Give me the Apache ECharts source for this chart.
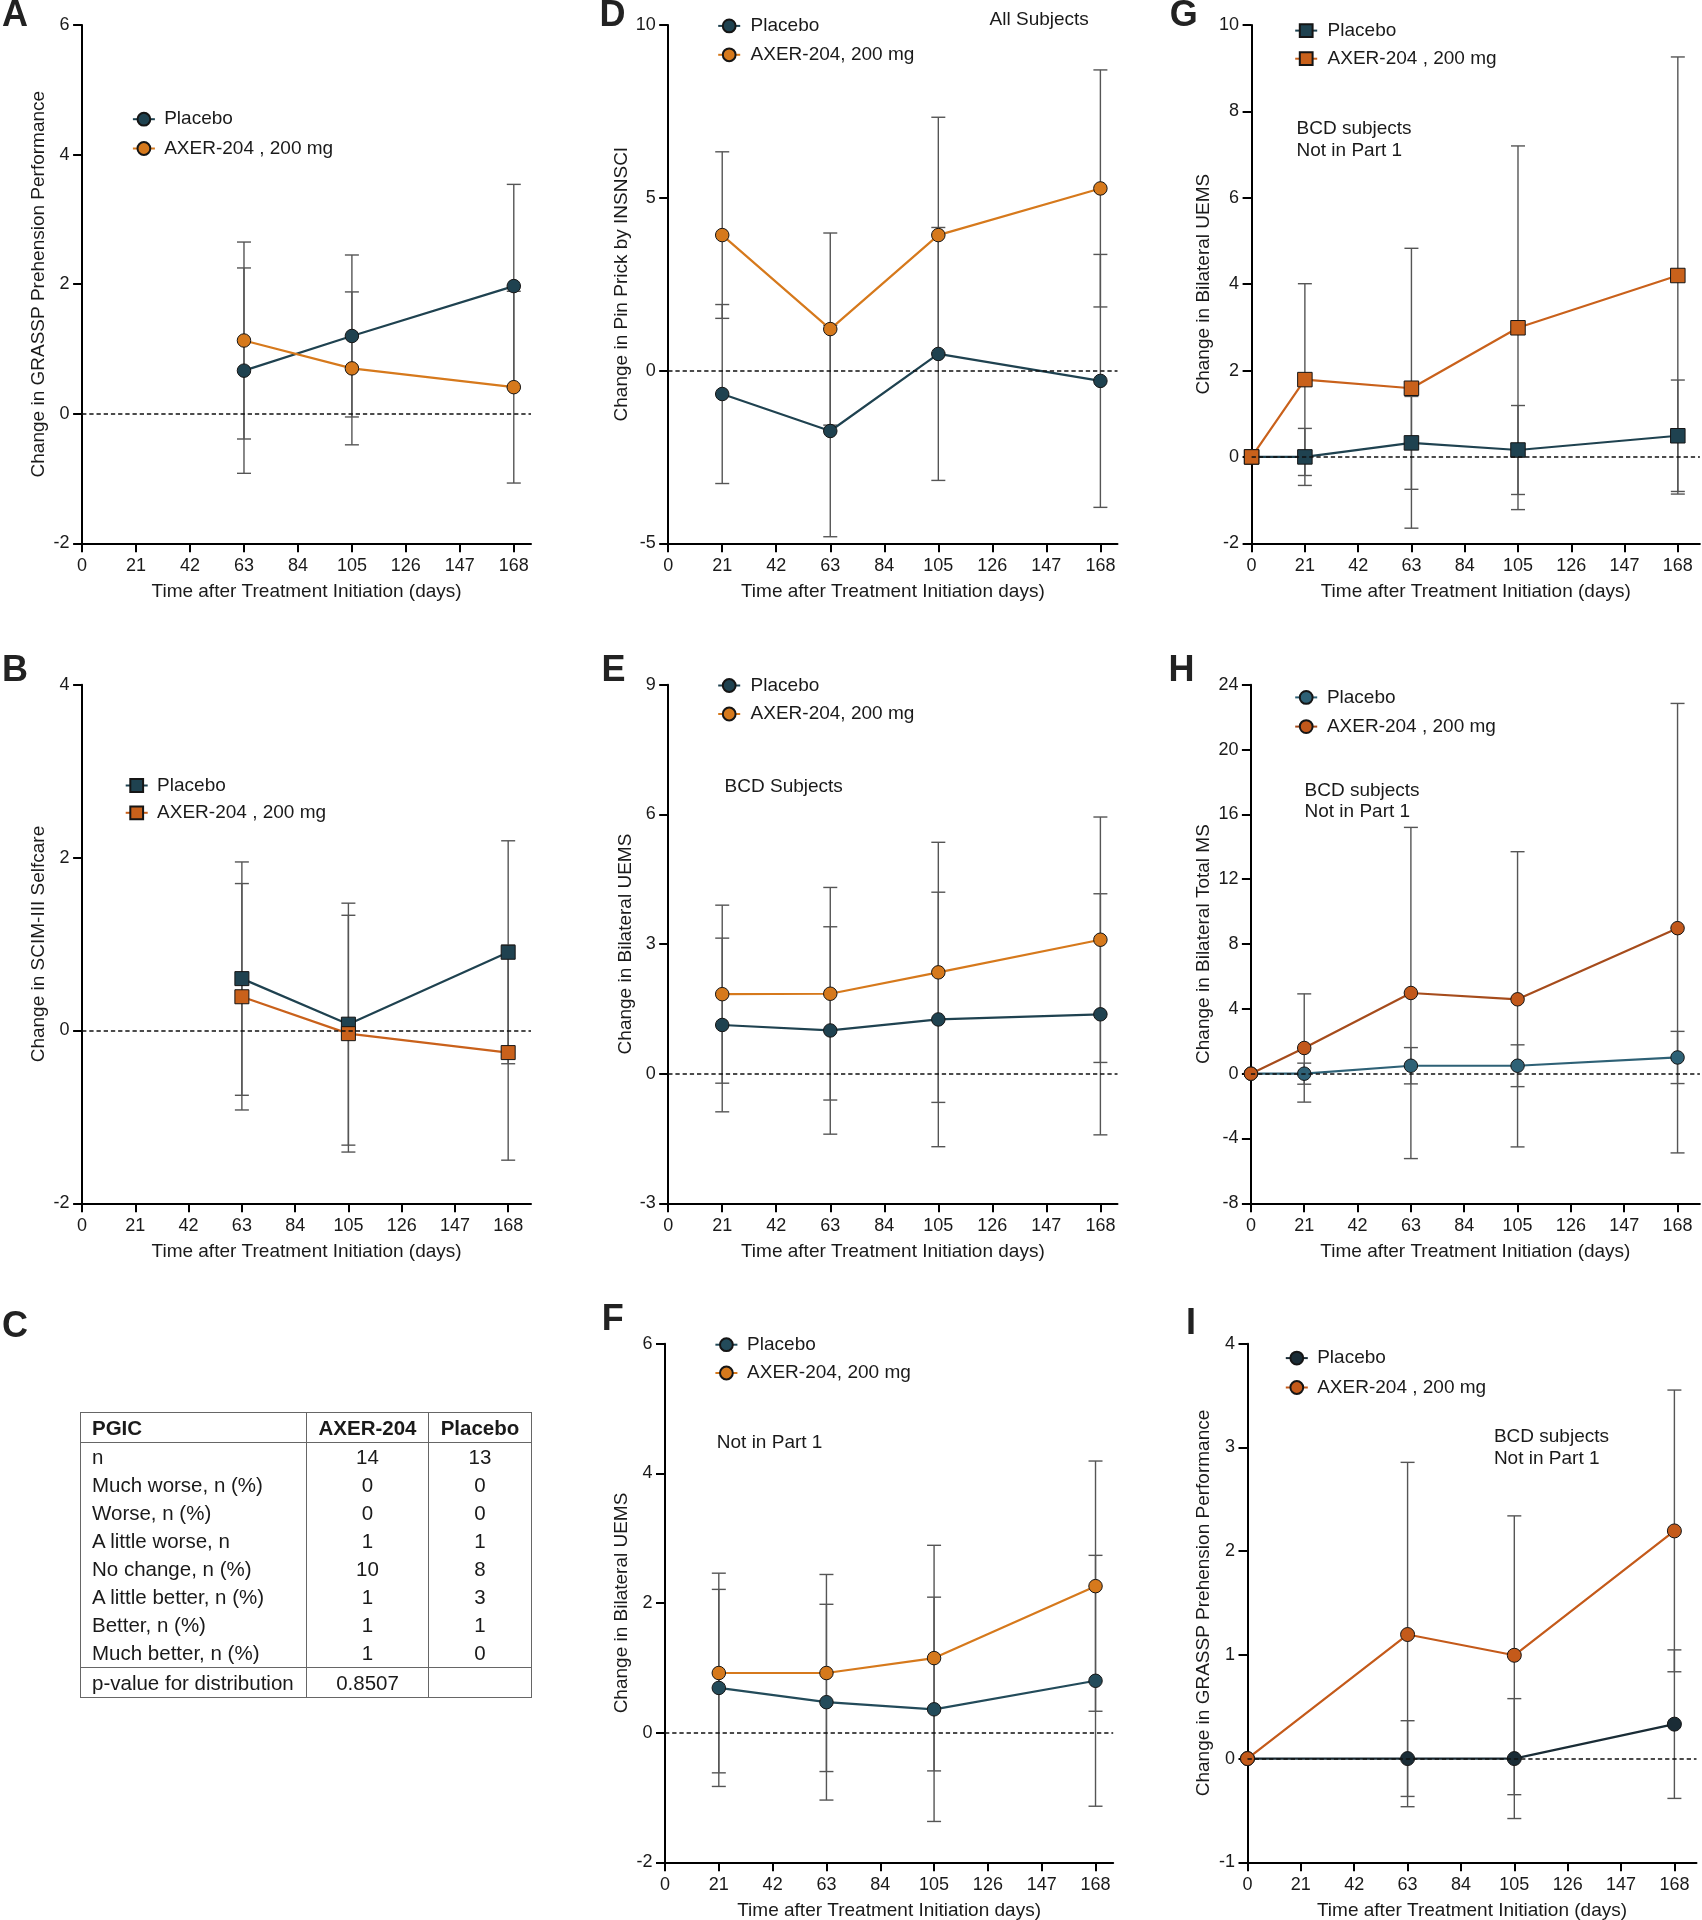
<!DOCTYPE html>
<html>
<head>
<meta charset="utf-8">
<script src="https://cdn.jsdelivr.net/npm/echarts@6/dist/echarts.min.js"></script>
<style>
html,body{margin:0;padding:0;background:#fff;}
#chart{position:absolute;left:0;top:0;width:1702px;height:1920px;}
#pgic{position:absolute;left:80px;top:1412px;width:451px;border-collapse:collapse;table-layout:fixed;
  font-family:'Liberation Sans',Arial,Helvetica,sans-serif;font-size:20.5px;color:#1a1a1a;border:1.7px solid #666;}
#pgic td,#pgic th{border-left:1.7px solid #666;border-right:1.7px solid #666;padding:0;height:28px;line-height:28px;text-align:center;white-space:nowrap;}
#pgic th{font-weight:bold;height:29px;line-height:29px;border-bottom:1.7px solid #666;}
#pgic td.lab,#pgic th.lab{text-align:left;padding-left:11px;}
#pgic tr.last td{border-top:1.7px solid #666;height:29px;line-height:29px;}
</style>
</head>
<body>
<div id="chart"></div>
<table id="pgic"><colgroup><col style="width:226px"><col style="width:122px"><col style="width:103px"></colgroup><tbody id="pgicBody"></tbody></table>
<script>
// ---------- shared axis ticks ----------
const xTicks = [0, 21, 42, 63, 84, 105, 126, 147, 168];
const X_NAME_A = 'Time after Treatment Initiation (days)';
const X_NAME_B = 'Time after Treatment Initiation days)';

// ---------- Panel A: GRASSP (all) ----------
const A_days = [63, 105, 168];
const A_placebo = [0.665, 1.20, 1.97];
const A_placeboErr = [1.585, 1.25, 1.57];
const A_axer = [1.13, 0.70, 0.41];
const A_axerErr = [1.52, 1.18, 1.48];

// ---------- Panel B: SCIM-III Selfcare ----------
const B_days = [63, 105, 168];
const B_placebo = [0.60, 0.073, 0.905];
const B_placeboErr = [1.35, 1.40, 1.29];
const B_axer = [0.39, -0.037, -0.256];
const B_axerErr = [1.31, 1.37, 1.245];

// ---------- Panel D: Pin Prick ----------
const D_days = [21, 63, 105, 168];
const D_placebo = [-0.68, -1.75, 0.48, -0.30];
const D_placeboErr = [2.59, 3.06, 3.66, 3.66];
const D_axer = [3.92, 1.20, 3.92, 5.27];
const D_axerErr = [2.41, 2.78, 3.41, 3.43];

// ---------- Panel E: UEMS, BCD subjects ----------
const E_days = [21, 63, 105, 168];
const E_placebo = [1.127, 1.0, 1.255, 1.374];
const E_placeboErr = [2.01, 2.40, 2.945, 2.79];
const E_axer = [1.84, 1.85, 2.345, 3.10];
const E_axerErr = [2.06, 2.46, 3.01, 2.84];

// ---------- Panel F: UEMS, not in Part 1 ----------
const F_days = [21, 63, 105, 168];
const F_placebo = [0.69, 0.47, 0.36, 0.80];
const F_placeboErr = [1.52, 1.51, 1.73, 1.935];
const F_axer = [0.92, 0.92, 1.15, 2.26];
const F_axerErr = [1.54, 1.52, 1.74, 1.93];

// ---------- Panel G: UEMS, BCD not in Part 1 ----------
const G_days = [0, 21, 63, 105, 168];
const G_placebo = [0, 0, 0.325, 0.16, 0.49];
const G_placeboErr = [0, 0.66, 1.075, 1.03, 1.29];
const G_axer = [0, 1.79, 1.59, 2.99, 4.20];
const G_axerErr = [0, 2.22, 3.24, 4.21, 5.06];

// ---------- Panel H: Total MS ----------
const H_days = [0, 21, 63, 105, 168];
const H_placebo = [0, 0, 0.49, 0.49, 1.0];
const H_placeboErr = [0, 0.65, 1.12, 1.29, 1.61];
const H_axer = [0, 1.585, 4.98, 4.59, 8.98];
const H_axerErr = [0, 3.34, 10.22, 9.11, 13.87];

// ---------- Panel I: GRASSP, BCD not in Part 1 ----------
const I_days = [0, 63, 105, 168];
const I_placebo = [0, 0, 0, 0.332];
const I_placeboErr = [0, 0.365, 0.578, 0.716];
const I_axer = [0, 1.196, 0.996, 2.195];
const I_axerErr = [0, 1.66, 1.344, 1.358];

// ---------- Panel C: PGIC table ----------
const pgicHeader = ['PGIC', 'AXER-204', 'Placebo'];
const pgicRows = ['n', 'Much worse, n (%)', 'Worse, n (%)', 'A little worse, n', 'No change, n (%)', 'A little better, n (%)', 'Better, n (%)', 'Much better, n (%)'];
const pgicAxer = ['14', '0', '0', '1', '10', '1', '1', '1'];
const pgicPlacebo = ['13', '0', '0', '1', '8', '3', '1', '0'];
const pgicPLabel = 'p-value for distribution';
const pgicPValue = '0.8507';

(function(){
  const tb = document.getElementById('pgicBody');
  let h = '<tr>' + pgicHeader.map((t,i)=>'<th' + (i===0?' class="lab"':'') + '>' + t + '</th>').join('') + '</tr>';
  pgicRows.forEach((r,i)=>{ h += '<tr><td class="lab">' + r + '</td><td>' + pgicAxer[i] + '</td><td>' + pgicPlacebo[i] + '</td></tr>'; });
  h += '<tr class="last"><td class="lab">' + pgicPLabel + '</td><td>' + pgicPValue + '</td><td></td></tr>';
  tb.innerHTML = h;
})();

const FONT = "'Liberation Sans', Arial, Helvetica, sans-serif";
const TXT = '#1a1a1a';

const panels = [
  {key:'A', days:A_days, pl:A_placebo, plErr:A_placeboErr, ax:A_axer, axErr:A_axerErr,
   axLabel:'AXER-204 , 200 mg', yName:'Change in GRASSP Prehension Performance', xName:X_NAME_A,
   yMin:-2, yMax:6, yInt:2, xMax:174.7, grid:[82.1, 25, 448.9, 518.3], gapY:33.4,
   symbol:'circle', size:13.5, plColor:'#1f4250', axColor:'#d6791c', legend:[131.9, 109.7, 10.3, 4.3]},
  {key:'D', days:D_days, pl:D_placebo, plErr:D_placeboErr, ax:D_axer, axErr:D_axerErr,
   axLabel:'AXER-204, 200 mg', yName:'Change in Pin Prick by INSNSCI', xName:X_NAME_B,
   yMin:-5, yMax:10, yInt:5, xMax:174.65, grid:[668.2, 25, 449.3, 518.3], gapY:36.7,
   symbol:'circle', size:13.5, plColor:'#1f4250', axColor:'#d6791c', legend:[717.2, 16.4, 9.9, 5.4]},
  {key:'G', days:G_days, pl:G_placebo, plErr:G_placeboErr, ax:G_axer, axErr:G_axerErr,
   axLabel:'AXER-204 , 200 mg', yName:'Change in Bilateral UEMS', xName:X_NAME_A,
   yMin:-2, yMax:10, yInt:2, xMax:176.7, grid:[1251.6, 25, 448.3, 518.3], gapY:37.9,
   symbol:'rect', size:14.5, plColor:'#1f4250', axColor:'#c9611b', legend:[1294.2, 21.1, 9.1, 5.4]},
  {key:'B', days:B_days, pl:B_placebo, plErr:B_placeboErr, ax:B_axer, axErr:B_axerErr,
   axLabel:'AXER-204 , 200 mg', yName:'Change in SCIM-III Selfcare', xName:X_NAME_A,
   yMin:-2, yMax:4, yInt:2, xMax:177.0, grid:[82.1, 684.8, 448.9, 518.5], gapY:33.4,
   symbol:'rect', size:14, plColor:'#1f4250', axColor:'#c9611b', legend:[124.7, 776, 8.3, 4.4]},
  {key:'E', days:E_days, pl:E_placebo, plErr:E_placeboErr, ax:E_axer, axErr:E_axerErr,
   axLabel:'AXER-204, 200 mg', yName:'Change in Bilateral UEMS', xName:X_NAME_B,
   yMin:-3, yMax:9, yInt:3, xMax:174.65, grid:[668.2, 684.8, 449.3, 518.5], gapY:33.1,
   symbol:'circle', size:13.5, plColor:'#1f4250', axColor:'#d6791c', legend:[717.2, 676, 9.5, 5.4]},
  {key:'H', days:H_days, pl:H_placebo, plErr:H_placeboErr, ax:H_axer, axErr:H_axerErr,
   axLabel:'AXER-204 , 200 mg', yName:'Change in Bilateral Total MS', xName:X_NAME_A,
   yMin:-8, yMax:24, yInt:4, xMax:176.8, grid:[1250.9, 684.8, 449, 518.5], gapY:37.2,
   symbol:'circle', size:13.5, plColor:'#2e6176', axColor:'#c2581b', axLine:'#a64c1c', legend:[1294.2, 687.9, 10.2, 4.7]},
  {key:'F', days:F_days, pl:F_placebo, plErr:F_placeboErr, ax:F_axer, axErr:F_axerErr,
   axLabel:'AXER-204, 200 mg', yName:'Change in Bilateral UEMS', xName:X_NAME_B,
   yMin:-2, yMax:6, yInt:2, xMax:174.9, grid:[665, 1343.7, 448.2, 518.6], gapY:34.1,
   symbol:'circle', size:13.5, plColor:'#234b5a', axColor:'#d6791c', legend:[714.4, 1335.2, 9.3, 4.7]},
  {key:'I', days:I_days, pl:I_placebo, plErr:I_placeboErr, ax:I_axer, axErr:I_axerErr,
   axLabel:'AXER-204 , 200 mg', yName:'Change in GRASSP Prehension Performance', xName:X_NAME_A,
   yMin:-1, yMax:4, yInt:1, xMax:176.7, grid:[1247.5, 1343.7, 449, 518.6], gapY:33.8,
   symbol:'circle', size:14, plColor:'#1a2c36', axColor:'#c45a1a', legend:[1284.8, 1348.6, 10.4, 4.4]}
];

const notes = [
  ['All Subjects', 989.6, 19.8], ['BCD subjects', 1296.5, 128.5], ['Not in Part 1', 1296.5, 150.3],
  ['BCD Subjects', 724.6, 786.5], ['BCD subjects', 1304.5, 790.5], ['Not in Part 1', 1304.5, 812.2],
  ['Not in Part 1', 716.8, 1443.2], ['BCD subjects', 1493.9, 1436.7], ['Not in Part 1', 1493.9, 1458.5]
];
const letters = [
  ['A', 2, 16], ['D', 599.6, 16], ['G', 1169.7, 16],
  ['B', 2, 671], ['E', 601.4, 671], ['H', 1168.6, 671],
  ['C', 2, 1327], ['F', 601.7, 1320], ['I', 1186, 1324.5]
];

function errRender(params, api) {
  const x = api.value(0), y = api.value(1), e = api.value(2);
  if (!e) return null;
  const t = api.coord([x, y + e]), b = api.coord([x, y - e]);
  const hw = 7;
  const st = {stroke: '#555', lineWidth: 1.4, fill: null};
  return {type: 'group', children: [
    {type: 'line', shape: {x1: t[0], y1: t[1], x2: b[0], y2: b[1]}, style: st},
    {type: 'line', shape: {x1: t[0] - hw, y1: t[1], x2: t[0] + hw, y2: t[1]}, style: st},
    {type: 'line', shape: {x1: b[0] - hw, y1: b[1], x2: b[0] + hw, y2: b[1]}, style: st}
  ]};
}

const option = {animation: false, backgroundColor: '#fff', textStyle: {fontFamily: FONT},
  grid: [], xAxis: [], yAxis: [], series: [], legend: [], graphic: []};

panels.forEach((p, i) => {
  option.grid.push({left: p.grid[0], top: p.grid[1], width: p.grid[2], height: p.grid[3], containLabel: false, outerBoundsMode: 'none'});
  option.xAxis.push({type: 'value', gridIndex: i, min: 0, max: p.xMax,
    name: p.xName, nameLocation: 'middle', nameGap: 39,
    nameTextStyle: {fontSize: 19, color: TXT, fontFamily: FONT},
    axisLine: {onZero: false, lineStyle: {color: '#000', width: 2}},
    axisTick: {show: true, length: 9, customValues: xTicks, lineStyle: {color: '#000', width: 2}},
    axisLabel: {customValues: xTicks, fontSize: 18, color: TXT, margin: 13.5, fontFamily: FONT},
    splitLine: {show: false}});
  option.yAxis.push({type: 'value', gridIndex: i, min: p.yMin, max: p.yMax, interval: p.yInt,
    name: p.yName, nameLocation: 'middle', nameGap: p.gapY,
    nameTextStyle: {fontSize: 19, color: TXT, fontFamily: FONT},
    axisLine: {show: true, lineStyle: {color: '#000', width: 2}},
    axisTick: {show: true, length: 9, lineStyle: {color: '#000', width: 2}},
    axisLabel: {fontSize: 18, color: TXT, margin: 12.5, fontFamily: FONT},
    splitLine: {show: false}});
  const plName = p.key + '|Placebo', axName = p.key + '|' + p.axLabel;
  option.series.push({type: 'custom', xAxisIndex: i, yAxisIndex: i, z: 2, silent: true,
    renderItem: errRender, data: p.days.map((d, k) => [d, p.pl[k], p.plErr[k]])});
  option.series.push({type: 'custom', xAxisIndex: i, yAxisIndex: i, z: 2, silent: true,
    renderItem: errRender, data: p.days.map((d, k) => [d, p.ax[k], p.axErr[k]])});
  option.series.push({type: 'line', name: plName, xAxisIndex: i, yAxisIndex: i, z: 3,
    symbol: p.symbol, symbolSize: p.size,
    lineStyle: {color: p.plColor, width: 2.2},
    itemStyle: {color: p.plColor, borderColor: '#151515', borderWidth: 1},
    data: p.days.map((d, k) => [d, p.pl[k]]),
    markLine: {silent: true, symbol: ['none', 'none'], label: {show: false},
      lineStyle: {color: '#111', type: [4.3, 2.9], width: 1.6}, data: [{yAxis: 0}]}});
  option.series.push({type: 'line', name: axName, xAxisIndex: i, yAxisIndex: i, z: 4,
    symbol: p.symbol, symbolSize: p.size,
    lineStyle: {color: p.axLine || p.axColor, width: 2.2},
    itemStyle: {color: p.axColor, borderColor: '#151515', borderWidth: 1},
    data: p.days.map((d, k) => [d, p.ax[k]])});
  option.legend.push({data: [plName, axName], orient: 'vertical', left: p.legend[0], top: p.legend[1],
    itemGap: p.legend[2], itemWidth: 22, itemHeight: 16, padding: 0, selectedMode: false,
    formatter: n => n.split('|')[1],
    textStyle: {fontSize: 19, color: TXT, lineHeight: 16, padding: [0, 0, 0, p.legend[3]], fontFamily: FONT}});
});

notes.forEach(n => option.graphic.push({type: 'text', x: n[1], y: n[2],
  style: {text: n[0], font: '19px ' + FONT, fill: TXT, textVerticalAlign: 'middle', textAlign: 'left'}}));
letters.forEach(l => option.graphic.push({type: 'text', x: l[1], y: l[2],
  style: {text: l[0], font: 'bold 36px ' + FONT, fill: '#222', textVerticalAlign: 'middle', textAlign: 'left'}}));

const chart = echarts.init(document.getElementById('chart'));
chart.setOption(option);
</script>
</body>
</html>
